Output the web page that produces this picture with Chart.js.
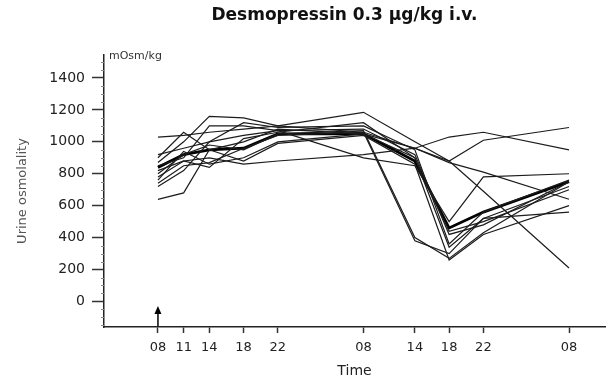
<!DOCTYPE html>
<html>
<head>
<meta charset="utf-8">
<script src="https://cdn.jsdelivr.net/npm/chart.js@4/dist/chart.umd.min.js"></script>
<style>
  html, body { margin: 0; padding: 0; background: #fff; }
  #wrap { width: 609px; height: 384px; }
</style>
</head>
<body>
<div id="wrap"><canvas id="osmolality-chart"></canvas></div>
<script>
// hours after the first 08:00 sample
const hours = [0, 3, 6, 10, 14, 24, 30, 34, 38, 48];
const timeLabels = ['08', '11', '14', '18', '22', '08', '14', '18', '22', '08'];
const yTicks = [0, 200, 400, 600, 800, 1000, 1200, 1400];

// urine osmolality, mOsm/kg, one array per subject
const subject1 = [1030, 1040, 1060, 1080, 1100, 1060, 960, 1030, 1060, 950];
const subject2 = [870, 1000, 1160, 1150, 1100, 1185, 1000, 880, 690, 210];
const subject3 = [640, 680, 950, 1000, 1080, 1050, 960, 880, 1010, 1090];
const subject4 = [780, 880, 900, 860, 880, 920, 960, 870, 810, 640];
const subject5 = [920, 960, 1000, 1040, 1070, 900, 850, 500, 780, 800];
const subject6 = [800, 920, 980, 950, 1050, 1070, 400, 270, 430, 750];
const subject7 = [740, 850, 870, 960, 1040, 1060, 380, 300, 520, 560];
const subject8 = [850, 900, 1100, 1100, 1070, 1080, 920, 420, 480, 750];
const subject9 = [760, 940, 860, 900, 1000, 1050, 900, 340, 520, 720];
const subject10 = [900, 1060, 950, 880, 990, 1040, 860, 260, 420, 600];
const subject11 = [720, 820, 1000, 1120, 1090, 1100, 950, 360, 560, 760];
const subject12 = [820, 880, 840, 1020, 1060, 1120, 900, 440, 500, 700];
const meanValues = [840, 920, 950, 960, 1050, 1050, 880, 460, 560, 750];

const subjects = [subject1, subject2, subject3, subject4, subject5, subject6,
  subject7, subject8, subject9, subject10, subject11, subject12];

const FONT = "'DejaVu Sans', Verdana, sans-serif";
const TITLE = 'Desmopressin 0.3 \u00b5g/kg i.v.';

const toPoints = values => values.map((v, i) => ({x: hours[i], y: v}));

const datasets = subjects.map((values, i) => ({
  label: 'Subject ' + (i + 1),
  data: toPoints(values),
  borderColor: '#1c1c1c',
  borderWidth: 1.2,
  pointRadius: 0,
  tension: 0,
  fill: false
}));
datasets.push({
  label: 'Mean',
  data: toPoints(meanValues),
  borderColor: '#000',
  borderWidth: 2.8,
  pointRadius: 0,
  tension: 0,
  fill: false
});

// title, arrow at the time of injection, unit label and minor y ticks
const extras = {
  id: 'extras',
  afterDraw(chart) {
    const {ctx, chartArea, scales} = chart;
    ctx.save();
    // title, centred a little left of the plot centre like the original
    ctx.font = 'bold 17px ' + FONT;
    ctx.fillStyle = '#111';
    ctx.textAlign = 'center';
    ctx.textBaseline = 'middle';
    ctx.fillText(TITLE, chartArea.left + (chartArea.right - chartArea.left) * 0.48, 16);
    // minor ticks
    ctx.strokeStyle = '#888';
    ctx.lineWidth = 1;
    for (let v = -150; v <= 1500; v += 50) {
      if (v % 200 === 0) continue;
      const y = Math.round(scales.y.getPixelForValue(v)) + 0.5;
      ctx.beginPath();
      ctx.moveTo(chartArea.left - 3, y);
      ctx.lineTo(chartArea.left, y);
      ctx.stroke();
    }
    // arrow
    const ax = scales.x.getPixelForValue(hours[0]);
    const ay = chartArea.bottom - 1;
    ctx.strokeStyle = '#000';
    ctx.fillStyle = '#000';
    ctx.lineWidth = 1.5;
    ctx.beginPath();
    ctx.moveTo(ax, ay);
    ctx.lineTo(ax, ay - 15);
    ctx.stroke();
    ctx.beginPath();
    ctx.moveTo(ax, ay - 20);
    ctx.lineTo(ax - 3.5, ay - 12);
    ctx.lineTo(ax + 3.5, ay - 12);
    ctx.closePath();
    ctx.fill();
    // unit
    ctx.font = '11px ' + FONT;
    ctx.fillStyle = '#333';
    ctx.textAlign = 'left';
    ctx.fillText('mOsm/kg', chartArea.left + 5, chartArea.top + 1);
    ctx.restore();
  }
};

new Chart(document.getElementById('osmolality-chart'), {
  type: 'line',
  data: {datasets: datasets},
  plugins: [extras],
  options: {
    responsive: true,
    maintainAspectRatio: false,
    animation: false,
    layout: {padding: {left: 1, right: 4, top: 55, bottom: 0}},
    plugins: {
      legend: {display: false},
      tooltip: {enabled: false},
      title: {display: false}
    },
    scales: {
      x: {
        type: 'linear',
        min: -6.3,
        max: 52.2,
        afterBuildTicks: scale => { scale.ticks = hours.map(v => ({value: v})); },
        afterFit: scale => { scale.height = 57; },
        ticks: {
          callback: (value, index) => timeLabels[index],
          autoSkip: false,
          maxRotation: 0,
          color: '#222',
          padding: 7,
          font: {family: FONT, size: 13}
        },
        grid: {drawOnChartArea: false, drawTicks: true, tickLength: 6, tickColor: '#333', tickWidth: 1.5},
        border: {color: '#222', width: 1.5},
        title: {
          display: true,
          text: 'Time',
          color: '#222',
          font: {family: FONT, size: 14},
          padding: {top: 0, bottom: 4}
        }
      },
      y: {
        min: -160,
        max: 1544,
        afterBuildTicks: scale => { scale.ticks = yTicks.map(v => ({value: v})); },
        afterFit: scale => { scale.width = 103; },
        ticks: {
          callback: value => String(value),
          color: '#222',
          padding: 7,
          font: {family: FONT, size: 14}
        },
        grid: {drawOnChartArea: false, drawTicks: true, tickLength: 12, tickColor: '#333', tickWidth: 1.5},
        border: {color: '#222', width: 1.5},
        title: {
          display: true,
          text: 'Urine osmolality',
          color: '#555',
          font: {family: FONT, size: 13},
          padding: {top: 14, bottom: 0}
        }
      }
    }
  }
});
</script>
</body>
</html>
